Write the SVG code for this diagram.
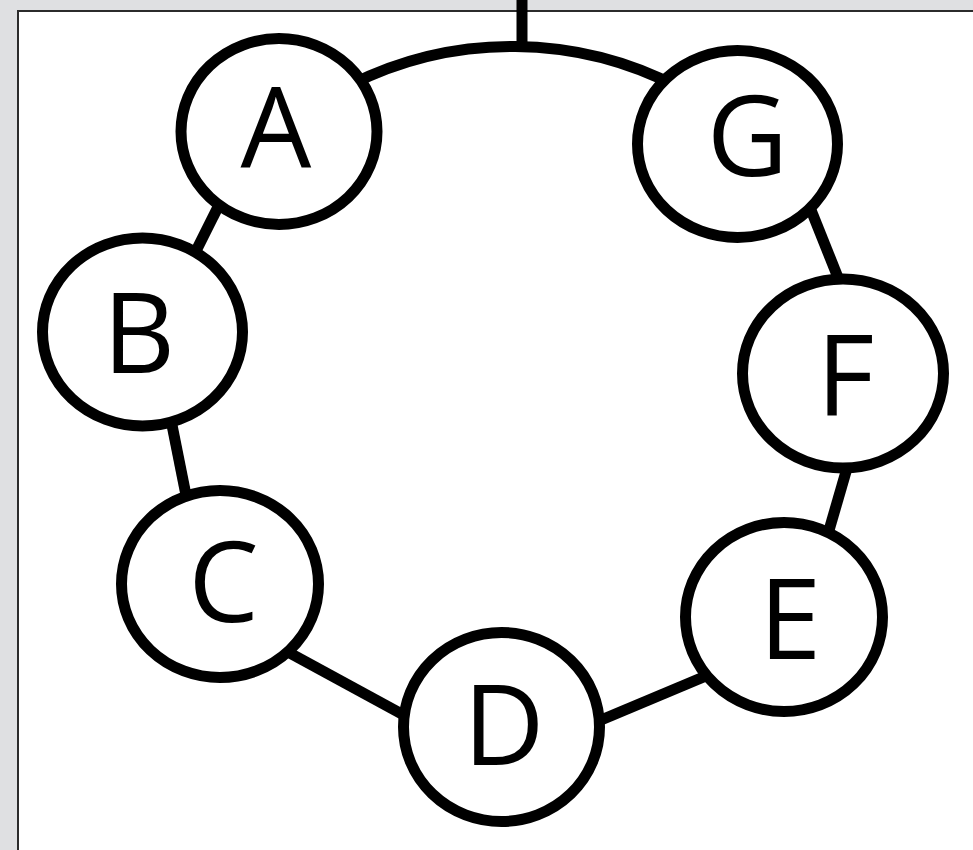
<svg xmlns="http://www.w3.org/2000/svg" width="973" height="850" viewBox="0 0 973 850">
  <style>
    .node ellipse { fill: #ffffff; stroke: #000000; stroke-width: 11; }
    .node text { font-family: "Open Sans", "Liberation Sans", sans-serif; font-size: 112px; fill: #000000; text-anchor: middle; }
    .conn { fill: none; stroke: #000000; stroke-width: 11; stroke-linecap: butt; }
  </style>
  <rect x="0" y="0" width="973" height="850" fill="#dfe0e2"/>
  <rect x="18" y="11" width="970" height="860" fill="#ffffff" stroke="#2b2b2b" stroke-width="2"/>
  <g id="connectors" class="conn">
    <line x1="522" y1="0" x2="522" y2="52"/>
    <path d="M350,85 A360,360 0 0 1 680,88"/>
    <line x1="224" y1="195" x2="189" y2="265"/>
    <line x1="167" y1="400" x2="190" y2="515"/>
    <line x1="275" y1="645" x2="422" y2="725"/>
    <line x1="582" y1="728" x2="725" y2="668"/>
    <line x1="823" y1="551" x2="852" y2="451"/>
    <line x1="803" y1="190" x2="847" y2="300"/>
  </g>
  <g id="node-A" class="node">
    <ellipse cx="279" cy="131.5" rx="98" ry="93"/>
    <text x="276" y="167">A</text>
  </g>
  <g id="node-B" class="node">
    <ellipse cx="142.5" cy="332" rx="100" ry="94"/>
    <text x="139" y="373">B</text>
  </g>
  <g id="node-C" class="node">
    <ellipse cx="220" cy="584" rx="98.5" ry="93.5"/>
    <text x="223.5" y="621.5">C</text>
  </g>
  <g id="node-D" class="node">
    <ellipse cx="501.5" cy="727" rx="98" ry="94.5"/>
    <text x="504" y="765">D</text>
  </g>
  <g id="node-E" class="node">
    <ellipse cx="784" cy="617" rx="98.5" ry="94.5"/>
    <text x="790" y="659">E</text>
  </g>
  <g id="node-F" class="node">
    <ellipse cx="843" cy="373.5" rx="100.5" ry="94.5"/>
    <text x="845.5" y="415">F</text>
  </g>
  <g id="node-G" class="node">
    <ellipse cx="737.5" cy="144" rx="100" ry="93.5"/>
    <text x="747.5" y="175.5">G</text>
  </g>
</svg>
